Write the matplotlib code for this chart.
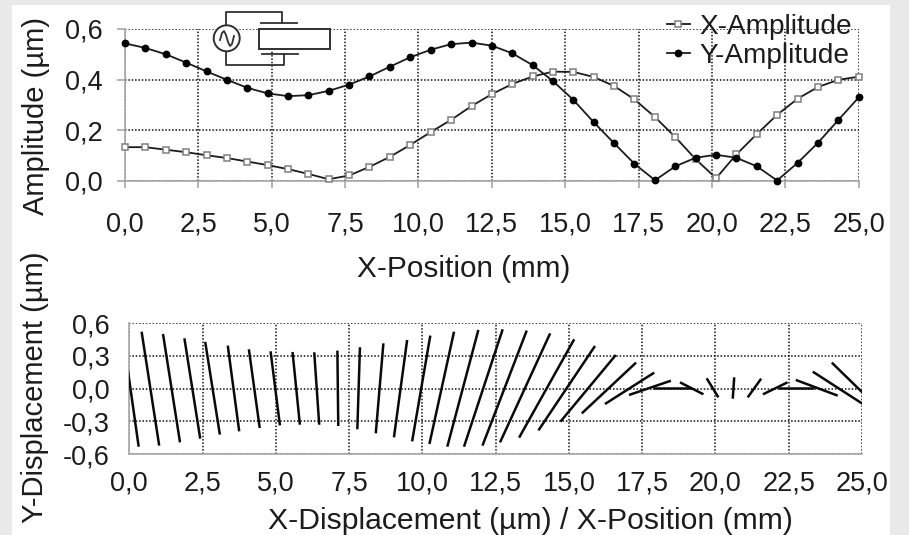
import matplotlib
matplotlib.use('Agg')
import matplotlib.pyplot as plt
from matplotlib.lines import Line2D
from matplotlib.patches import Rectangle, Circle
from matplotlib.transforms import Affine2D

plt.rcParams['font.family'] = ['Liberation Sans', 'DejaVu Sans']

# values
positions = [0.0, 0.69, 1.39, 2.08, 2.78, 3.47, 4.17, 4.86, 5.56, 6.25, 6.94, 7.64,
             8.33, 9.03, 9.72, 10.42, 11.11, 11.81, 12.5, 13.19, 13.89, 14.58, 15.28, 15.97,
             16.67, 17.36, 18.06, 18.75, 19.44, 20.14, 20.83, 21.53, 22.22, 22.92, 23.61, 24.31, 25.0]
x_amplitude = [0.132, 0.132, 0.122, 0.112, 0.100, 0.089, 0.075, 0.061, 0.045, 0.026, 0.005, 0.020,
               0.054, 0.094, 0.141, 0.192, 0.240, 0.295, 0.342, 0.382, 0.412, 0.431, 0.430, 0.410,
               0.374, 0.321, 0.251, 0.172, 0.085, 0.009, 0.103, 0.184, 0.260, 0.324, 0.370, 0.399, 0.411]
y_amplitude = [0.543, 0.525, 0.500, 0.467, 0.432, 0.399, 0.367, 0.345, 0.334, 0.338, 0.355, 0.380,
               0.412, 0.451, 0.488, 0.518, 0.540, 0.546, 0.534, 0.504, 0.457, 0.394, 0.319, 0.231,
               0.147, 0.066, 0.001, 0.056, 0.090, 0.102, 0.090, 0.056, 0.000, 0.070, 0.149, 0.240, 0.329]

# end points of the displacement strokes
stroke_x0 = [-0.24, 0.42, 1.15, 1.88, 2.59, 3.36, 4.08, 4.82, 5.57, 6.31, 7.10, 7.87,
             8.67, 9.48, 10.27, 11.08, 11.91, 12.74, 13.56, 14.36, 15.18, 15.89, 16.60, 17.29,
             17.91, 18.48, 17.88, 18.79, 19.70, 20.64, 21.56, 22.46, 22.15, 22.74, 23.32, 23.97]
stroke_y0 = [0.533, 0.523, 0.502, 0.462, 0.429, 0.395, 0.361, 0.343, 0.337, 0.334, 0.349, 0.380,
             0.416, 0.447, 0.487, 0.523, 0.539, 0.545, 0.533, 0.508, 0.453, 0.392, 0.309, 0.239,
             0.147, 0.073, 0.005, 0.058, 0.095, 0.104, 0.092, 0.058, 0.003, 0.080, 0.156, 0.239]
stroke_x1 = [0.32, 1.02, 1.73, 2.42, 3.09, 3.75, 4.45, 5.14, 5.82, 6.48, 7.13, 7.78,
             8.41, 9.03, 9.65, 10.24, 10.85, 11.42, 12.05, 12.65, 13.30, 13.96, 14.71, 15.44,
             16.23, 17.05, 19.19, 19.59, 20.10, 20.59, 21.10, 21.62, 23.35, 24.17, 25.03, 25.79]
stroke_y1 = [-0.533, -0.523, -0.493, -0.459, -0.422, -0.392, -0.361, -0.337, -0.331, -0.331, -0.343, -0.373,
             -0.410, -0.447, -0.484, -0.508, -0.533, -0.533, -0.523, -0.493, -0.450, -0.383, -0.303, -0.227,
             -0.141, -0.058, 0.005, -0.052, -0.080, -0.092, -0.080, -0.052, 0.003, -0.064, -0.141, -0.239]

x_ticks = [0, 2.5, 5, 7.5, 10, 12.5, 15, 17.5, 20, 22.5, 25]
x_tick_labels = ['0,0', '2,5', '5,0', '7,5', '10,0', '12,5', '15,0', '17,5', '20,0', '22,5', '25,0']
amp_ticks = [0, 0.2, 0.4, 0.6]
amp_tick_labels = ['0,0', '0,2', '0,4', '0,6']
disp_ticks = [-0.6, -0.3, 0, 0.3, 0.6]
disp_tick_labels = ['-0,6', '-0,3', '0,0', '0,3', '0,6']

W, H = 909, 535
GREY = '#a8a8a8'
INK = '#1c1c1c'
dotted = (0, (1, 1.2))

fig = plt.figure(figsize=(W / 100, H / 100), dpi=100, facecolor='#e9e9e9')
fig.add_artist(Rectangle((12 / W, 0), 878 / W, 530 / H, transform=fig.transFigure,
                         facecolor='white', edgecolor='none', zorder=-5))


def axes_px(left, top, right, bottom):
    return fig.add_axes([left / W, 1 - bottom / H, (right - left) / W, (bottom - top) / H])


def style(ax):
    ax.set_facecolor('none')
    ax.set_xlim(0, 25)
    ax.set_xticks(x_ticks, x_tick_labels)
    ax.grid(True, color='#111111', lw=1.1, ls=dotted)
    ax.set_axisbelow(True)
    for s in ['top', 'right']:
        ax.spines[s].set_visible(False)
    for s in ['left', 'bottom']:
        ax.spines[s].set_color(GREY)
        ax.spines[s].set_linewidth(1.2)


# upper panel
ax1 = axes_px(125, 29, 858.7, 180.5)
style(ax1)
ax1.set_ylim(0, 0.6)
ax1.set_yticks(amp_ticks, amp_tick_labels)
ax1.tick_params(axis='x', labelsize=19.5, length=5, width=1.2, color=GREY, pad=17, labelcolor=INK)
ax1.tick_params(axis='y', labelsize=19.5, length=6, width=1.2, color=GREY, pad=10, labelcolor=INK)
ax1.plot(positions, x_amplitude, color=INK, lw=1.3, marker='s', ms=4.5, mfc='white', mec='#808080',
         mew=1.1, clip_on=False, label='X-Amplitude', zorder=3)
ax1.plot(positions, y_amplitude, color=INK, lw=1.3, marker='o', ms=4.6, mfc='black', mec='black',
         clip_on=False, label='Y-Amplitude', zorder=4)
ax1.set_xlabel('X-Position (mm)', fontsize=21.4, color=INK)
ax1.xaxis.set_label_coords(0.461, -0.491)
ax1.set_ylabel('Amplitude (µm)', fontsize=21, color=INK)
ax1.yaxis.set_label_coords(-0.102, 0.426)
ax1.legend(loc='upper right', bbox_to_anchor=(0.991, 1.10), frameon=False, fontsize=20.2,
           handlelength=0.8, handletextpad=0.35, labelspacing=0.12, borderpad=0, borderaxespad=0,
           labelcolor=INK)

# lower panel
ax2 = axes_px(129.3, 323.3, 862, 454)
style(ax2)
ax2.set_ylim(-0.6, 0.6)
ax2.set_yticks(disp_ticks, disp_tick_labels)
ax2.tick_params(axis='x', labelsize=19.5, length=0, pad=12, labelcolor=INK)
ax2.tick_params(axis='y', labelsize=19.5, length=0, pad=14, labelcolor=INK)
for x0, y0, x1, y1 in zip(stroke_x0, stroke_y0, stroke_x1, stroke_y1):
    ax2.plot([x0, x1], [y0, y1], color='#0a0a0a', lw=1.8, solid_capstyle='butt', zorder=3)
ax2.set_xlabel('X-Displacement (µm) / X-Position (mm)', fontsize=21.7, color=INK)
ax2.xaxis.set_label_coords(0.5476, -0.405)
ax2.set_ylabel('Y-Displacement (µm)', fontsize=21, color=INK)
ax2.yaxis.set_label_coords(-0.109, 0.51)

# circuit sketch, pixel coordinates of the picture
px = Affine2D().scale(1 / W, -1 / H).translate(0, 1) + fig.transFigure


def wire(xs, ys):
    fig.add_artist(Line2D(xs, ys, color='#303030', lw=1.3, transform=px, zorder=6))


fig.add_artist(Rectangle((259.3, 29.3), 70.7, 20, transform=px, facecolor='white',
                         edgecolor='#303030', lw=1.4, zorder=6))
wire([225.7, 225.7, 282.3, 282.3], [27, 12, 12, 23.3])
wire([261, 296.7], [23.3, 23.3])
wire([262, 297.7], [54, 54])
wire([284.3, 284.3, 225.7, 225.7], [54, 65.3, 65.3, 50])
fig.add_artist(Circle((226.7, 38.3), 13, transform=px, facecolor='white',
                      edgecolor='#303030', lw=1.4, zorder=6))
wire([220, 222, 224, 226, 228, 230, 232, 234], [40, 33, 31, 35, 42, 46, 44, 36])

fig.savefig('out.png', dpi=100, facecolor=fig.get_facecolor())
